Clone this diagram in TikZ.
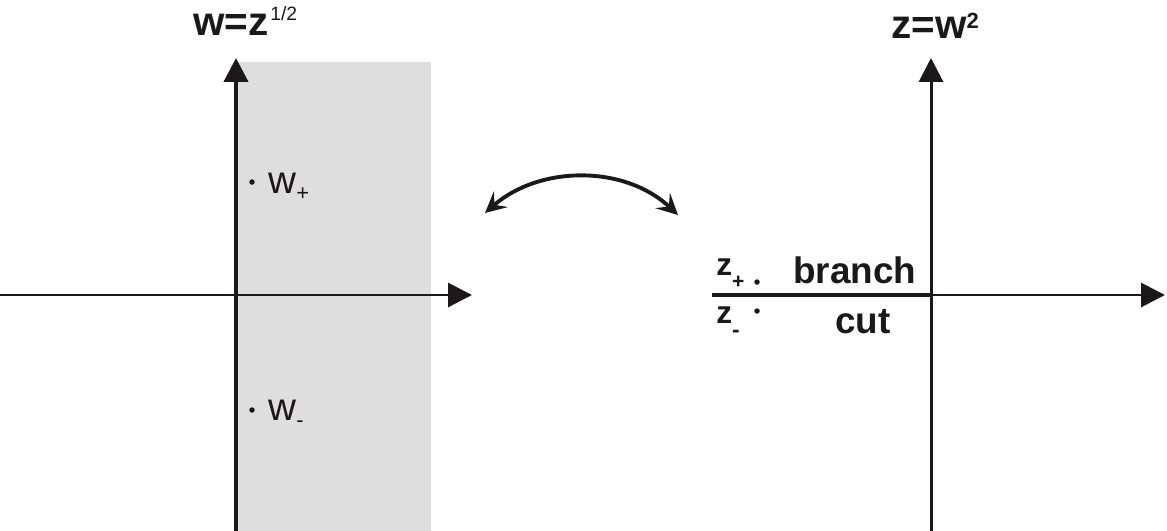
\documentclass[tikz,border=0pt]{standalone}
\usepackage{fontspec}
\setmainfont{Liberation Sans}
\usetikzlibrary{arrows.meta, positioning}
\definecolor{InkBlack}{HTML}{1C1819}
\definecolor{StripGray}{HTML}{DEDEDE}
\newcommand{\mapfont}{\fontsize{23}{26}\selectfont\bfseries}
\newcommand{\cutfont}{\fontsize{21}{24}\selectfont\bfseries}
\newcommand{\rootfont}{\fontsize{22}{25}\selectfont}
\newcommand{\zfont}{\fontsize{18}{20}\selectfont\bfseries}
% small raised or lowered index: shift, size, text
\newcommand{\idx}[3]{\raisebox{#1}{\fontsize{#2}{#2}\selectfont #3}}
\tikzset{
    axisline/.style={draw=InkBlack, line width=1.7pt},
    axistip/.style={-{Triangle[length=0.48cm, width=0.48cm]}},
    ptdot/.style={circle, fill=InkBlack, inner sep=0pt, minimum size=0.11cm},
    plain/.style={inner sep=0pt, anchor=base west, text=InkBlack},
    swaparrow/.style={draw=InkBlack, line width=2.2pt,
        {Stealth[length=0.42cm, width=0.42cm, inset=0.17cm]}-{Stealth[length=0.42cm, width=0.42cm, inset=0.17cm]}}
}

\begin{document}
\begin{tikzpicture}[x=0.02cm, y=-0.02cm]
\useasboundingbox (0,0) rectangle (1167,531);

% w plane
\fill[StripGray] (236,62) rectangle (431,531);
\coordinate (wLeft) at (0,295);
\coordinate (wRight) at (472,295);
\coordinate (wBottom) at (236,531);
\coordinate (wTop) at (236,58);
\draw[axisline, axistip] (wLeft) -- (wRight);
\draw[axisline, axistip, line width=2.3pt] (wBottom) -- (wTop);
\node[plain] (wTitle) at (193,35) {\mapfont w=z\hspace{1pt}\idx{8.5pt}{11}{\mdseries 1/2}};
\node[ptdot] (wPlusDot) at (252,182) {};
\node[ptdot] (wMinusDot) at (252,410) {};
\node[plain] (wPlus) at (268,193) {\rootfont w\idx{-4pt}{12.5}{+}};
\node[plain] (wMinus) at (268,420) {\rootfont w\idx{-4.5pt}{12.5}{-}};

% mapping between the planes
\coordinate (swapL) at (485,213);
\coordinate (swapR) at (678,215);
\draw[swaparrow] (swapL) .. controls +(55,-48) and +(-53,-50) .. (swapR);

% z plane
\coordinate (zLeft) at (931,295);
\coordinate (zRight) at (1165,295);
\coordinate (zBottom) at (931,531);
\coordinate (zTop) at (931,58);
\coordinate (cutEnd) at (712,295);
\draw[axisline, axistip] (zLeft) -- (zRight);
\draw[axisline, axistip] (zBottom) -- (zTop);
\draw[axisline, line width=2pt] (cutEnd) -- (zLeft);
\node[plain] (zTitle) at (891,38) {\mapfont z=w\idx{5.2pt}{12.5}{2}};
\node[plain] (branchText) at (793,283) {\cutfont branch};
\node[plain] (cutText) at (835,333) {\cutfont cut};
\node[ptdot] (zPlusDot) at (757,282) {};
\node[ptdot] (zMinusDot) at (757,311) {};
\node[plain] (zPlus) at (716,275) {\zfont z\idx{-7.4pt}{12}{+}};
\node[plain] (zMinus) at (716,323) {\zfont z\idx{-8pt}{13}{-}};
\end{tikzpicture}
\end{document}
